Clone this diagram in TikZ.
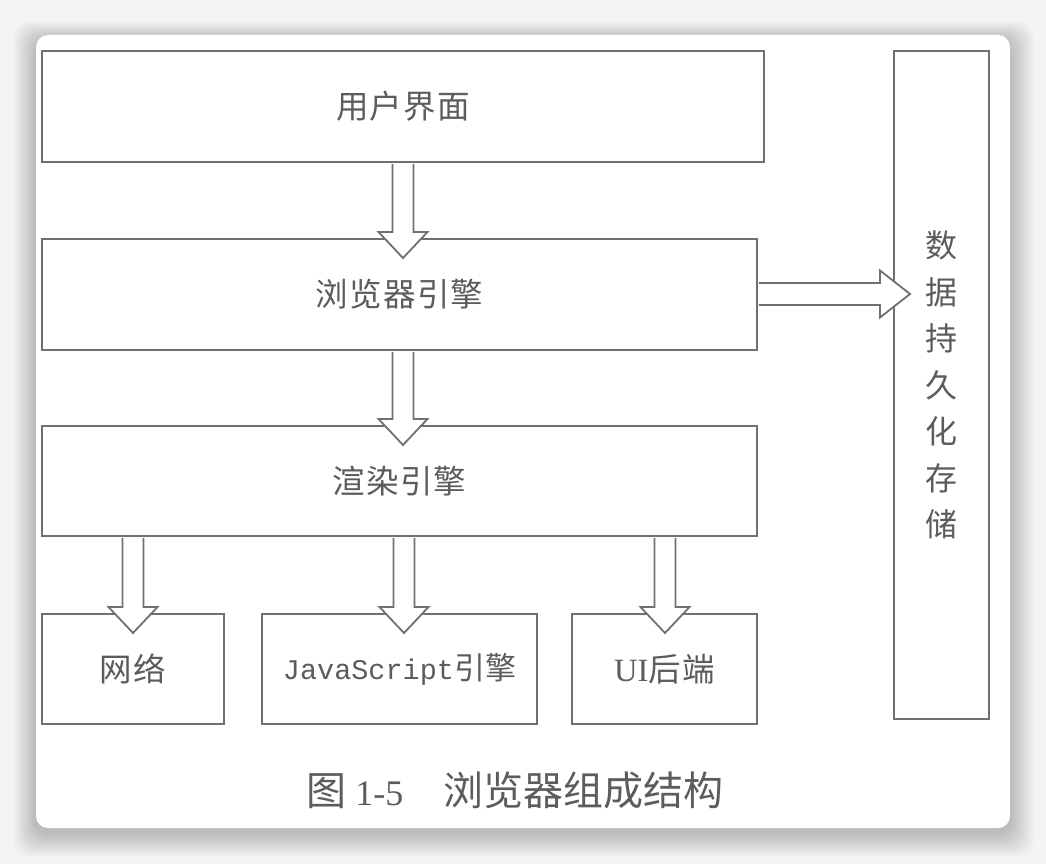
\documentclass[tikz,border=0pt]{standalone}
\usepackage{fontspec}
\setmainfont{Noto Sans CJK SC}
\newfontfamily\cjksp[LetterSpace=4]{Noto Sans CJK SC}
\newfontfamily\lmono{Liberation Mono}
\newfontfamily\lserif{Liberation Serif}
\usetikzlibrary{calc}
\definecolor{linegray}{HTML}{707070}
\definecolor{textgray}{HTML}{5C5C5C}
\definecolor{bggray}{HTML}{F4F4F4}
\begin{document}
\begin{tikzpicture}[x=1pt,y=-1pt,
  box/.style={draw=linegray, line width=1.8pt, fill=white, inner sep=0pt,
    text=textgray, font=\cjksp\fontsize{32.5}{38}\selectfont},
  arrowline/.style={draw=linegray, line width=1.8pt, fill=white, line join=miter},
  blockdown/.style={arrowline, to path={let \p1=(\tikztostart), \p2=(\tikztotarget) in
    (\x1-10.5pt,\y1-0.9pt) -- (\x1-10.5pt,\y2+26pt) -- (\x1-24.5pt,\y2+26pt) -- (\x2,\y2)
    -- (\x1+24.5pt,\y2+26pt) -- (\x1+10.5pt,\y2+26pt) -- (\x1+10.5pt,\y1-0.9pt)}},
  blockright/.style={arrowline, to path={let \p1=(\tikztostart), \p2=(\tikztotarget) in
    (\x1+0.9pt,\y1+11pt) -- (\x2-30pt,\y1+11pt) -- (\x2-30pt,\y1+23.5pt) -- (\x2,\y2)
    -- (\x2-30pt,\y1-23.5pt) -- (\x2-30pt,\y1-11pt) -- (\x1+0.9pt,\y1-11pt)}},
  caption/.style={text=textgray, inner sep=0pt, font=\fontsize{40}{46}\selectfont}
]
\useasboundingbox (0,0) rectangle (1046,864);
% background and card
\fill[bggray] (0,0) rectangle (1046,864);
\foreach \i in {1,...,14}
  \fill[black, opacity=0.016, rounded corners=16pt] (36-1.6*\i,35-1.3*\i+5) rectangle (1010+1.7*\i,828+1.7*\i+5);
\fill[white, rounded corners=12pt] (36,35) rectangle (1010,828);

% boxes
\node[box, minimum width=722pt, minimum height=111pt] (ui) at (403,106.5) {用户界面};
\node[box, minimum width=715pt, minimum height=111pt] (be) at (399.5,294.5) {浏览器引擎};
\node[box, minimum width=715pt, minimum height=110pt] (re) at (399.5,481) {渲染引擎};
\node[box, minimum width=182pt, minimum height=110pt] (net) at (133,669) {网络};
\node[box, minimum width=275pt, minimum height=110pt, font=\fontsize{31}{36}\selectfont] (js) at (399.5,669) {{\lmono\fontsize{28.5}{34}\selectfont JavaScript}引擎};
\node[box, minimum width=185pt, minimum height=110pt] (uib) at (664.5,669) {{\lserif UI}后端};
\node[box, minimum width=95pt, minimum height=668pt, align=center,
  font=\fontsize{32}{46.5}\selectfont] (store) at (941.5,385) {数\\据\\持\\久\\化\\存\\储};

% arrow tips
\coordinate (t1) at (403,258);
\coordinate (t2) at (403,445);
\coordinate (t3) at (133,633);
\coordinate (t4) at (404,633);
\coordinate (t5) at (665,633);
\coordinate (t6) at (910,294);

% connectors
\draw[blockdown] (ui.south -| t1) to (t1);
\draw[blockdown] (be.south -| t2) to (t2);
\draw[blockdown] (re.south -| t3) to (t3);
\draw[blockdown] (re.south -| t4) to (t4);
\draw[blockdown] (re.south -| t5) to (t5);
\draw[blockright] (be.east |- t6) to (t6);

% caption
\node[caption] (cap) at (515,790) {图 {\lserif\fontsize{36}{42}\selectfont 1-5}\hspace{1em}浏览器组成结构};
\end{tikzpicture}
\end{document}
